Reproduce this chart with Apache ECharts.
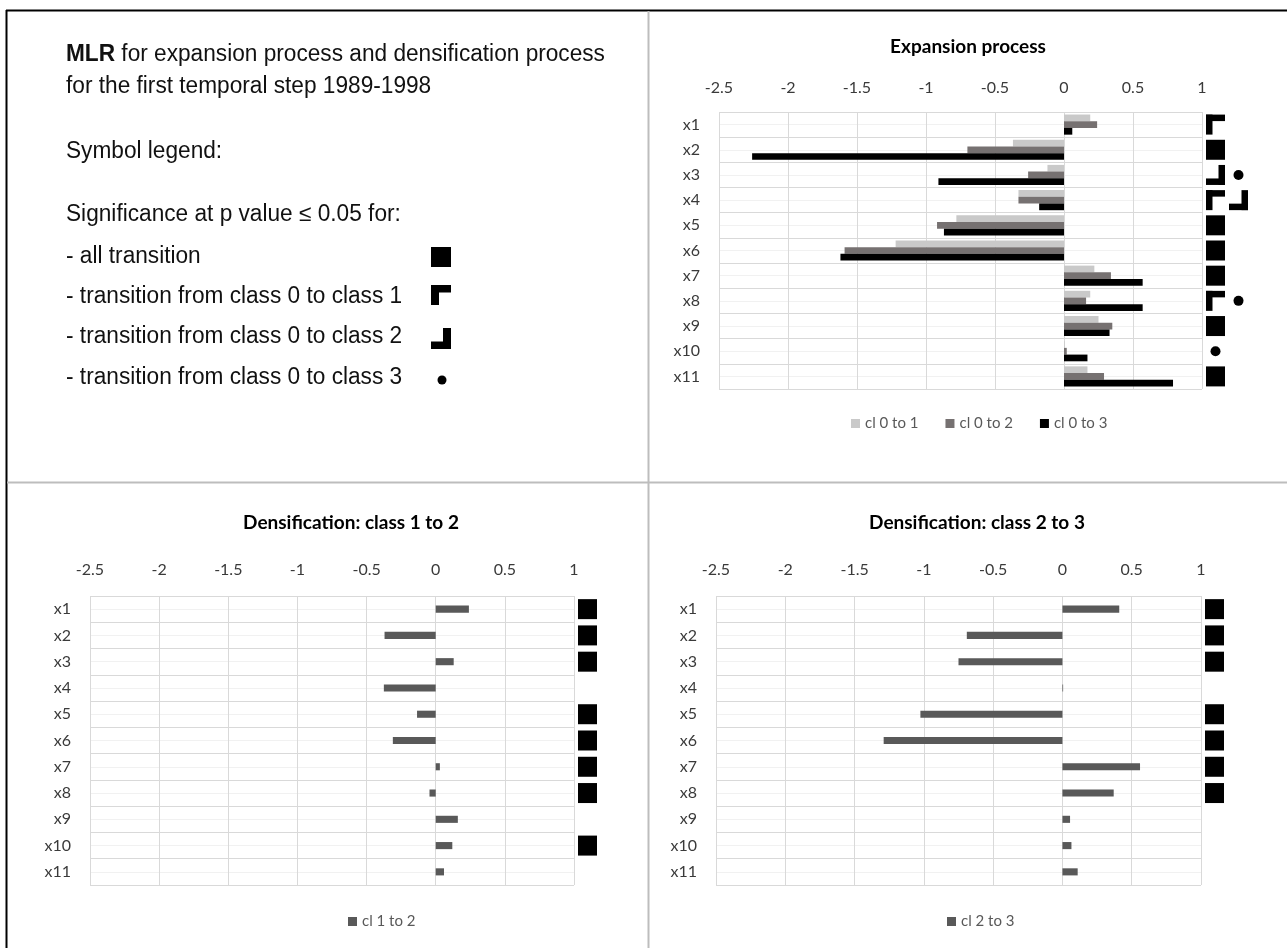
<!DOCTYPE html>
<html>
<head>
<meta charset="utf-8">
<script src="https://cdn.jsdelivr.net/npm/echarts@6/dist/echarts.min.js"></script>
<style>
  html, body { margin: 0; padding: 0; background: #fff; }
  #chart { width: 1287px; height: 948px; }
</style>
</head>
<body>
<div id="chart"></div>
<script>
// ---------------- data ----------------
const categories = ['x1', 'x2', 'x3', 'x4', 'x5', 'x6', 'x7', 'x8', 'x9', 'x10', 'x11'];
const axisMin = -2.5;
const axisMax = 1;
const axisStep = 0.5;

const exp01 = [0.19, -0.37, -0.12, -0.33, -0.78, -1.22, 0.22, 0.19, 0.25, 0.005, 0.17];
const exp02 = [0.24, -0.70, -0.26, -0.33, -0.92, -1.59, 0.34, 0.16, 0.35, 0.02, 0.29];
const exp03 = [0.06, -2.26, -0.91, -0.18, -0.87, -1.62, 0.57, 0.57, 0.33, 0.17, 0.79];
const dens12 = [0.24, -0.37, 0.13, -0.375, -0.135, -0.31, 0.03, -0.045, 0.16, 0.12, 0.06];
const dens23 = [0.41, -0.69, -0.75, 0.005, -1.025, -1.29, 0.56, 0.37, 0.055, 0.065, 0.11];

// significance symbols per variable: all = all transitions, c01/c02/c03 = class 0 to 1/2/3
const expSig = [['c01'], ['all'], ['c02', 'c03'], ['c01', 'c02'], ['all'], ['all'], ['all'], ['c01', 'c03'], ['all'], ['c03'], ['all']];
const dens12Sig = [['all'], ['all'], ['all'], [], ['all'], ['all'], ['all'], ['all'], [], ['all'], []];
const dens23Sig = [['all'], ['all'], ['all'], [], ['all'], ['all'], ['all'], ['all'], [], [], []];

const titleLines = ['for expansion process and densification process', 'for the first temporal step 1989-1998'];
const legendLines = ['Symbol legend:', 'Significance at p value \u2264 0.05 for:', '- all transition',
  '- transition from class 0 to class 1', '- transition from class 0 to class 2', '- transition from class 0 to class 3'];

// ---------------- styling ----------------
const FONT = 'Lato, "Open Sans", sans-serif';
const LFONT = '"Liberation Sans", Arial, sans-serif';
const GRID_C = '#d9d9d9';
const LABEL_C = '#3a3a3a';

const chart = echarts.init(document.getElementById('chart'), null, { renderer: 'canvas' });

const grids = [
  { left: 719, top: 112, width: 483, height: 277 },
  { left: 90, top: 596, width: 484, height: 289 },
  { left: 716, top: 596, width: 485, height: 289 }
];

function xAx(gi) {
  return {
    type: 'value', gridIndex: gi, position: 'top', min: axisMin, max: axisMax, interval: axisStep,
    axisLine: { show: false }, axisTick: { show: false },
    axisLabel: { margin: gi === 0 ? 16 : 18, color: LABEL_C, fontFamily: FONT, fontSize: 16 },
    splitLine: { show: true, lineStyle: { color: GRID_C, width: 1 } }
  };
}
function yCat(gi) {
  return {
    type: 'category', gridIndex: gi, data: categories, inverse: true,
    axisLine: { show: false }, axisTick: { show: false },
    axisLabel: { margin: 19, color: LABEL_C, fontFamily: FONT, fontSize: 16 },
    splitLine: { show: false }
  };
}
function yDecor(gi) {
  return {
    type: 'value', gridIndex: gi, min: 0, max: categories.length, interval: 0.5, inverse: true,
    axisLine: { show: false }, axisTick: { show: false }, axisLabel: { show: false },
    splitLine: { show: true, lineStyle: { color: [GRID_C, '#f1f1f1'], width: 1 } }
  };
}

function symbolRenderer(sigs) {
  return function (params, api) {
    const idx = params.dataIndex;
    const p = api.coord([axisMax, idx]);
    const list = sigs[idx] || [];
    const children = [];
    const S = 19, H = 20, T = 6.5;
    list.forEach(function (s, k) {
      const x = p[0] + 4 + k * 23;
      const y = p[1] - H / 2;
      const st = { fill: '#000' };
      if (s === 'all') {
        children.push({ type: 'rect', shape: { x: x, y: y, width: S, height: H }, style: st });
      } else if (s === 'c01') {
        children.push({ type: 'rect', shape: { x: x, y: y, width: S, height: T }, style: st });
        children.push({ type: 'rect', shape: { x: x, y: y, width: T, height: H }, style: st });
      } else if (s === 'c02') {
        children.push({ type: 'rect', shape: { x: x + S - T, y: y, width: T, height: H }, style: st });
        children.push({ type: 'rect', shape: { x: x, y: y + H - T, width: S, height: T }, style: st });
      } else if (s === 'c03') {
        children.push({ type: 'circle', shape: { cx: x + 9.5, cy: y + H / 2, r: 5 }, style: st });
      }
    });
    return { type: 'group', children: children };
  };
}

function barSeries(name, data, gi, color, gapOpts) {
  return Object.assign({
    name: name, type: 'bar', data: data, xAxisIndex: gi, yAxisIndex: gi * 2,
    itemStyle: { color: color }, silent: true, animation: false
  }, gapOpts);
}

function symSeries(name, sigs, gi) {
  return {
    name: name, type: 'custom', xAxisIndex: gi, yAxisIndex: gi * 2, clip: false, silent: true, animation: false,
    data: categories.map(function (c, i) { return [axisMax, i]; }),
    encode: { x: 0, y: 1 },
    renderItem: symbolRenderer(sigs), z: 5
  };
}

const legendBase = {
  icon: 'rect', itemWidth: 9, itemHeight: 9, itemGap: 27, selectedMode: false,
  textStyle: { color: '#595959', fontFamily: FONT, fontSize: 15 }
};

// left panel graphic texts
const leftTexts = [
  { type: 'text', x: 66, y: 55, style: { text: '{b|MLR} ' + titleLines[0], fontFamily: LFONT, fontSize: 23, fill: '#111', verticalAlign: 'middle', rich: { b: { fontWeight: 'bold', fontFamily: LFONT, fontSize: 23, fill: '#111' } } } },
  { type: 'text', x: 66, y: 87, style: { text: titleLines[1] } },
  { type: 'text', x: 66, y: 152, style: { text: legendLines[0] } },
  { type: 'text', x: 66, y: 215, style: { text: legendLines[1] } },
  { type: 'text', x: 66, y: 257, style: { text: legendLines[2] } },
  { type: 'text', x: 66, y: 297, style: { text: legendLines[3] } },
  { type: 'text', x: 66, y: 337, style: { text: legendLines[4] } },
  { type: 'text', x: 66, y: 378, style: { text: legendLines[5] } }
];
leftTexts.forEach(function (t, i) {
  t.scaleX = 0.985;
  if (i > 0) Object.assign(t.style, { fontFamily: LFONT, fontSize: 23, fill: '#111', verticalAlign: 'middle' });
});

const chartTitles = [
  { type: 'text', x: 968, y: 47, style: { text: 'Expansion process', align: 'center', verticalAlign: 'middle', fontFamily: FONT, fontSize: 19, fontWeight: 'bold', fill: '#000' } },
  { type: 'text', x: 351, y: 523, style: { text: 'Densification: class 1 to 2', align: 'center', verticalAlign: 'middle', fontFamily: FONT, fontSize: 19, fontWeight: 'bold', fill: '#000' } },
  { type: 'text', x: 977, y: 523, style: { text: 'Densification: class 2 to 3', align: 'center', verticalAlign: 'middle', fontFamily: FONT, fontSize: 19, fontWeight: 'bold', fill: '#000' } }
];

const legendSymbols = [
  { type: 'rect', shape: { x: 431, y: 247, width: 20, height: 20 }, style: { fill: '#000' } },
  { type: 'rect', shape: { x: 431, y: 285, width: 20, height: 7.5 }, style: { fill: '#000' } },
  { type: 'rect', shape: { x: 431, y: 285, width: 8, height: 20 }, style: { fill: '#000' } },
  { type: 'rect', shape: { x: 443, y: 328, width: 8, height: 21 }, style: { fill: '#000' } },
  { type: 'rect', shape: { x: 431, y: 341.5, width: 20, height: 7.5 }, style: { fill: '#000' } },
  { type: 'circle', shape: { cx: 442, cy: 380, r: 4.5 }, style: { fill: '#000' } }
];

const frame = [
  { type: 'line', shape: { x1: 6, y1: 10.5, x2: 1287, y2: 10.5 }, style: { stroke: '#000', lineWidth: 2 } },
  { type: 'line', shape: { x1: 6.5, y1: 10, x2: 6.5, y2: 948 }, style: { stroke: '#000', lineWidth: 2 } },
  { type: 'line', shape: { x1: 648.5, y1: 11, x2: 648.5, y2: 948 }, style: { stroke: '#bdbdbd', lineWidth: 2 } },
  { type: 'line', shape: { x1: 7, y1: 482.5, x2: 1287, y2: 482.5 }, style: { stroke: '#bdbdbd', lineWidth: 2 } }
];

const option = {
  backgroundColor: '#fff',
  animation: false,
  grid: grids,
  xAxis: [xAx(0), xAx(1), xAx(2)],
  yAxis: [yCat(0), yDecor(0), yCat(1), yDecor(1), yCat(2), yDecor(2)],
  legend: [
    Object.assign({}, legendBase, { data: ['cl 0 to 1', 'cl 0 to 2', 'cl 0 to 3'], left: 846, top: 411 }),
    Object.assign({}, legendBase, { data: ['cl 1 to 2'], left: 343, top: 909 }),
    Object.assign({}, legendBase, { data: ['cl 2 to 3'], left: 942, top: 909 })
  ],
  series: [
    barSeries('cl 0 to 1', exp01, 0, '#c9c9c9', { barGap: '0%', barCategoryGap: '20%' }),
    barSeries('cl 0 to 2', exp02, 0, '#767171', { barGap: '0%', barCategoryGap: '20%' }),
    barSeries('cl 0 to 3', exp03, 0, '#000000', { barGap: '0%', barCategoryGap: '20%' }),
    barSeries('cl 1 to 2', dens12, 1, '#595959', { barCategoryGap: '73%' }),
    barSeries('cl 2 to 3', dens23, 2, '#595959', { barCategoryGap: '73%' }),
    symSeries('sig expansion', expSig, 0),
    symSeries('sig dens 1-2', dens12Sig, 1),
    symSeries('sig dens 2-3', dens23Sig, 2)
  ],
  graphic: { elements: frame.concat(leftTexts, chartTitles, legendSymbols) }
};

chart.setOption(option);
</script>
</body>
</html>
